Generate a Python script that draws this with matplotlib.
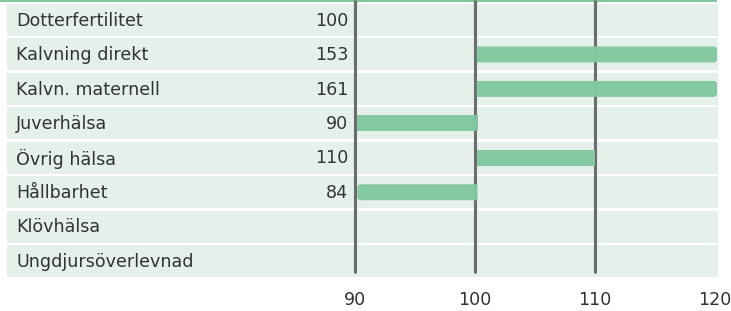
import matplotlib.pyplot as plt
from matplotlib.patches import Rectangle, Polygon
import numpy as np

# data
labels = ['Dotterfertilitet', 'Kalvning direkt', 'Kalvn. maternell', 'Juverhälsa',
          'Övrig hälsa', 'Hållbarhet', 'Klövhälsa', 'Ungdjursöverlevnad']
values = [100, 153, 161, 90, 110, 84, None, None]
ticks = [90, 100, 110, 120]
gridlines = [90, 100, 110]

W, H = 731, 311
px_x = 12.0          # pixels per index unit
x90 = 355.3          # pixel position of 90
pitch = 34.45        # row pitch in pixels
row0 = 20.0          # pixel centre of first row

def px2x(p):
    return 90 + (p - x90) / px_x

def px2y(p):
    return (p - row0) / pitch

bar_col = '#82c8a0'
band_col = '#e6f0eb'
line_col = '#6c6c6c'
txt_col = '#333333'
fs = 12.6

fig = plt.figure(figsize=(W / 100, H / 100), dpi=100)
ax = fig.add_axes([0, 0, 1, 1])
ax.set_xlim(px2x(0), px2x(W))
ax.set_ylim(px2y(H), px2y(0))
ax.axis('off')

band_h = 32 / pitch
bar_h = 16 / pitch
lo, hi = px2x(357.3), px2x(717)

# top green rule
ax.plot([px2x(0), px2x(717)], [px2y(0.8), px2y(0.8)], color=bar_col, lw=1.6,
        solid_capstyle='butt')

for i, lab in enumerate(labels):
    ax.add_patch(Rectangle((px2x(7), i - band_h / 2), px2x(718) - px2x(7), band_h,
                           facecolor=band_col, edgecolor='none', zorder=1))
    ax.text(px2x(16), i + 0.02, lab, ha='left', va='center', fontsize=fs,
            color=txt_col, family='DejaVu Sans', zorder=5)
    v = values[i]
    if v is None:
        continue
    ax.text(px2x(348.5), i + 0.02, str(v), ha='right', va='center', fontsize=fs,
            color=txt_col, family='DejaVu Sans', zorder=5)
    if v == 100:
        continue
    rl = v < 90
    rr = v > 120
    a, b = sorted([100, v])
    if v > 100:
        a = px2x(476.7)
        b = hi if rr else b
    else:
        b = px2x(477.5)
        a = lo if rl else px2x(356.7)
    # rounded corners on clipped ends
    rx, ry = 3.5 / px_x, 3.5 / pitch
    y0, y1 = i - bar_h / 2, i + bar_h / 2
    t = np.linspace(0, np.pi / 2, 8)
    pts = []
    if rr:
        pts += [(b - rx + rx * np.sin(s), y0 + ry - ry * np.cos(s)) for s in t]
        pts += [(b - rx + rx * np.cos(s), y1 - ry + ry * np.sin(s)) for s in t]
    else:
        pts += [(b, y0), (b, y1)]
    if rl:
        pts += [(a + rx - rx * np.sin(s), y1 - ry + ry * np.cos(s)) for s in t]
        pts += [(a + rx - rx * np.cos(s), y0 + ry - ry * np.sin(s)) for s in t]
    else:
        pts += [(a, y1), (a, y0)]
    ax.add_patch(Polygon(pts, closed=True, facecolor=bar_col, edgecolor='none',
                         alpha=0.97, zorder=4))

for g in gridlines:
    ax.plot([g, g], [px2y(0), px2y(273)], color=line_col, lw=2.2,
            solid_capstyle='butt', zorder=3)

for tk in ticks:
    ax.text(tk, px2y(300), str(tk), ha='center', va='center', fontsize=fs,
            color=txt_col, family='DejaVu Sans')

fig.savefig('out.png', dpi=100)
